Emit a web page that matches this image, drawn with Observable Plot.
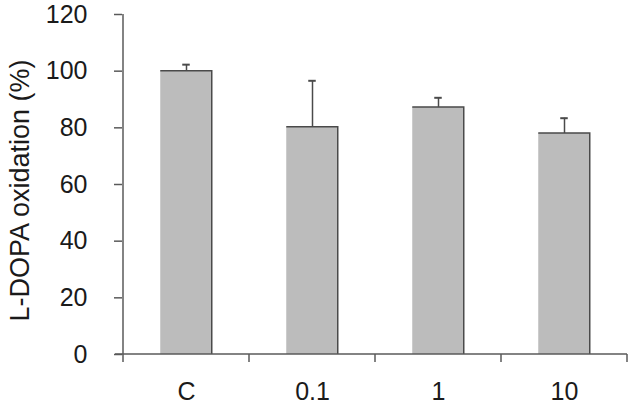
<!DOCTYPE html>
<html><head><meta charset="utf-8">
<script src="https://cdn.jsdelivr.net/npm/d3@7"></script>
<script src="https://cdn.jsdelivr.net/npm/@observablehq/plot@0.6"></script>
<style>html,body{margin:0;padding:0;background:#fff} svg{display:block}</style>
</head><body><div id="chart"></div>
<script>
const categories = ["C", "0.1", "1", "10"];
const values = [100, 80.2, 87.2, 78.0];
const errors = [2.3, 16.4, 3.4, 5.4];
const yTicks = [0, 20, 40, 60, 80, 100, 120];
const yLabel = "L-DOPA oxidation (%)";

const data = categories.map((c, i) => ({cat: c, value: values[i], err: errors[i], top: values[i] + errors[i]}));

const axisColor = "#5a5a5a";
const textColor = "#1a1a1a";
const barFill = "#bcbcbc";
const edgeColor = "#4a4a4a";
const W = 633, H = 417;
const mL = 122, mR = 5, mT = 14, mB = 63;
const bw = (W - mL - mR) / categories.length;
const barW = 52, capW = 8;

function axes(index, scales) {
  const {x, y} = scales;
  const band = x.bandwidth ? x.bandwidth() : bw;
  const g = d3.create("svg:g").attr("stroke", axisColor).attr("stroke-width", 1.5).attr("fill", "none");
  const x0 = x(categories[0]);
  const xEnd = x(categories[categories.length - 1]) + band;
  g.append("line").attr("x1", x0).attr("x2", x0).attr("y1", y(yTicks[yTicks.length - 1])).attr("y2", y(0));
  g.append("line").attr("x1", x0 - 8).attr("x2", xEnd).attr("y1", y(0)).attr("y2", y(0));
  const bounds = categories.map(c => x(c)).concat([xEnd]);
  for (const b of bounds) g.append("line").attr("x1", b).attr("x2", b).attr("y1", y(0)).attr("y2", y(0) + 8);
  return g.node();
}

const chart = Plot.plot({
  width: W, height: H,
  marginLeft: mL, marginRight: mR, marginTop: mT, marginBottom: mB,
  style: {fontFamily: "'Liberation Sans', Arial, sans-serif", fontSize: "25px", background: "#fff"},
  x: {domain: categories, padding: 0},
  y: {domain: [0, 120]},
  marks: [
    Plot.barY(data, {x: "cat", y: "value", fill: barFill, insetLeft: (bw - barW) / 2, insetRight: (bw - barW) / 2}),
    Plot.barY(data, {x: "cat", y: "value", fill: "none", stroke: edgeColor, strokeWidth: 1.5, insetLeft: (bw - barW) / 2, insetRight: (bw - barW) / 2}),
    Plot.ruleX(data, {x: "cat", y1: "value", y2: "top", stroke: edgeColor, strokeWidth: 1.5}),
    Plot.tickY(data, {x: "cat", y: "top", stroke: edgeColor, strokeWidth: 2, insetLeft: (bw - capW) / 2, insetRight: (bw - capW) / 2}),
    Plot.axisY({ticks: yTicks, tickSize: 8, tickPadding: 27, label: null, stroke: axisColor, strokeWidth: 1.5, fill: textColor, fontSize: 25}),
    Plot.axisX({tickSize: 0, tickPadding: 28, label: null, fill: textColor, fontSize: 25}),
    axes,
    Plot.text([yLabel], {frameAnchor: "left", textAnchor: "middle", text: d => d, rotate: -90, dx: -102, dy: 6, fontSize: 27, fill: textColor})
  ]
});

// draw only top and right edges of each bar outline
const groups = chart.querySelectorAll('g[aria-label="bar"]');
if (groups.length > 1) {
  groups[groups.length - 1].querySelectorAll("rect").forEach(r => {
    const w = +r.getAttribute("width"), h = +r.getAttribute("height");
    r.setAttribute("stroke-dasharray", `${w + h} ${w + h + 2000}`);
  });
}
document.getElementById("chart").appendChild(chart);
</script>
</body></html>
